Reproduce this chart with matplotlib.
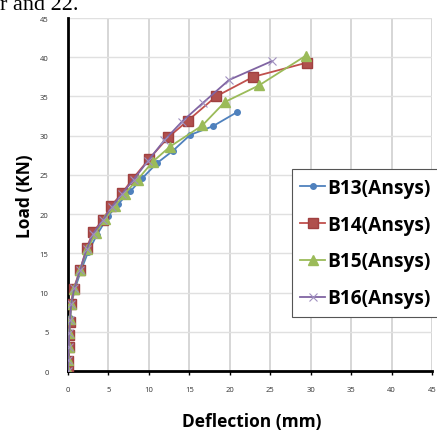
"""
Load-deflection curves, B13-B16 (Ansys).
"""
import matplotlib
matplotlib.use("Agg")
import matplotlib.pyplot as plt

# ── data ──────────────────────────────────────────────────────────────────────
b13_d = [0, 0.05, 0.1, 0.15, 0.25, 0.45, 0.9, 1.6, 2.5, 3.6, 5.0, 6.2, 7.7, 9.2, 11.0, 13.0, 15.1, 17.9, 20.9]
b13_l = [0, 1.5, 3.2, 5.0, 6.8, 8.7, 10.6, 12.8, 15.2, 17.4, 19.8, 21.3, 22.9, 24.6, 26.5, 28.1, 30.1, 31.2, 33.0]

b14_d = [0, 0.05, 0.1, 0.15, 0.2, 0.35, 0.7, 1.5, 2.3, 3.1, 4.3, 5.3, 6.7, 8.0, 10.0, 12.4, 14.8, 18.3, 22.9, 29.5]
b14_l = [0, 1.3, 3.0, 4.6, 6.2, 8.5, 10.5, 12.9, 15.7, 17.7, 19.3, 21.0, 22.7, 24.5, 27.0, 29.8, 31.9, 35.0, 37.5, 39.3]

b15_d = [0, 0.05, 0.1, 0.15, 0.25, 0.4, 0.8, 1.5, 2.4, 3.4, 4.6, 5.8, 7.0, 8.6, 10.5, 12.6, 16.6, 19.4, 23.6, 29.4]
b15_l = [0, 1.4, 3.1, 4.8, 6.6, 8.6, 10.5, 12.9, 15.5, 17.6, 19.4, 21.0, 22.6, 24.4, 26.7, 28.6, 31.3, 34.3, 36.4, 40.2]

b16_d = [0, 0.05, 0.1, 0.15, 0.25, 0.4, 0.8, 1.5, 2.3, 3.1, 4.3, 5.4, 6.7, 8.1, 9.9, 11.9, 14.1, 16.7, 19.9, 25.2]
b16_l = [0, 1.4, 3.1, 4.8, 6.5, 8.6, 10.6, 12.9, 15.5, 17.5, 19.2, 20.9, 22.6, 24.4, 26.8, 29.4, 31.8, 34.2, 37.1, 39.5]

labels = ["B13(Ansys)", "B14(Ansys)", "B15(Ansys)", "B16(Ansys)"]
ticks = [0, 5, 10, 15, 20, 25, 30, 35, 40, 45]

BLUE   = "#4F81BD"
RED    = "#C0504D"
GREEN  = "#9BBB59"
PURPLE = "#8064A2"

# ── figure ────────────────────────────────────────────────────────────────────
fig = plt.figure(figsize=(4.37, 4.35), dpi=100, facecolor="white")
ax = fig.add_axes([0.1556, 0.1448, 0.833, 0.8115])

ax.plot(b13_d, b13_l, color=BLUE, lw=1.3, marker="o", ms=4, mec=BLUE, label=labels[0], zorder=3)
ax.plot(b14_d, b14_l, color=RED, lw=1.3, marker="s", ms=7, mfc="#B0504D", mec="#A04040", label=labels[1], zorder=3)
ax.plot(b15_d, b15_l, color=GREEN, lw=1.3, marker="^", ms=6.5, mec=GREEN, label=labels[2], zorder=3)
ax.plot(b16_d, b16_l, color=PURPLE, lw=1.3, marker="x", ms=6, mew=0.8, mec="#A090C0", label=labels[3], zorder=4)

ax.set_xlim(0, 45)
ax.set_ylim(0, 45)
ax.set_xticks(ticks)
ax.set_yticks(ticks)
ax.grid(True, axis="x", color="#cccccc", lw=1.1)
ax.grid(True, axis="y", color="#e0e0e0", lw=1.0)
ax.set_axisbelow(True)
for s in ("top", "right"):
    ax.spines[s].set_visible(False)
for s in ("left", "bottom"):
    ax.spines[s].set_color("black")
    ax.spines[s].set_linewidth(2)
ax.tick_params(axis="x", length=3, width=1, pad=8, labelsize=5.5, labelcolor="#333333", direction="out")
ax.tick_params(axis="y", length=0, pad=14, labelsize=5.5, labelcolor="#333333")
for lab in ax.get_xticklabels() + ax.get_yticklabels():
    lab.set_family("Open Sans")

fig.text(0.057, 0.548, "Load (KN)", rotation=90, ha="center", va="center",
         fontsize=12.5, fontweight="bold", family="Open Sans")
fig.text(0.575, 0.030, "Deflection (mm)", ha="center", va="center",
         fontsize=12.5, fontweight="bold", family="Open Sans")

# clipped line of body text above the chart
fig.text(0.0, 0.977, "r and 22.", ha="left", va="baseline", fontsize=16,
         family="Liberation Serif")

# legend frame runs past the right edge, as in the source
leg = ax.legend(loc="upper left", bbox_to_anchor=(0.615, 0.572), frameon=True,
                fancybox=False, edgecolor="#555555", framealpha=1,
                prop={"family": "Open Sans", "weight": "bold", "size": 13.8},
                handlelength=1.3, handletextpad=0.1, labelspacing=0.88,
                borderpad=0.45, borderaxespad=0)
leg.get_frame().set_linewidth(0.8)

fig.savefig("out.png", dpi=100, facecolor="white")
